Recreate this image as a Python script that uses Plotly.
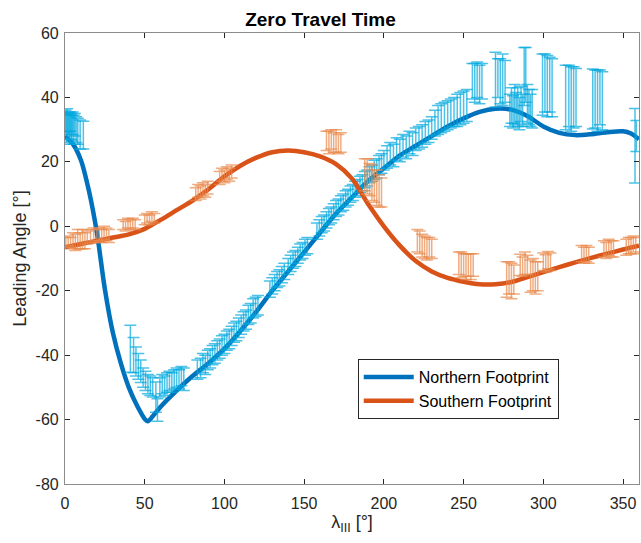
import plotly.graph_objects as go

# ---------------- model curves ----------------
north_lam = [0, 5, 10, 15, 20, 25, 30, 35, 40, 45, 50, 52, 55, 60, 70, 80, 90, 100, 110, 120, 130,
             140, 150, 160, 170, 180, 190, 200, 210, 220, 230, 240, 250, 260, 270, 280, 290, 300,
             310, 320, 330, 340, 350, 355, 360]
north_curve = [28, 25.5, 20.5, 11, -2, -19.5, -33, -42.5, -50, -55.5, -59.8, -60.5, -59, -56, -51,
               -46.5, -42.5, -38, -32.5, -26.5, -20, -14, -8, -2, 4, 9, 14, 18, 22, 25, 28, 31, 33.5,
               35.5, 36.5, 36.2, 34.2, 31, 29, 28.3, 28.6, 29.2, 29.5, 28.8, 27]

south_lam = [0, 10, 20, 30, 40, 50, 60, 70, 80, 90, 100, 110, 120, 130, 140, 150, 160, 170, 180, 190,
             200, 210, 220, 230, 240, 250, 260, 270, 280, 290, 300, 310, 320, 330, 340, 350, 360]
south_curve = [-6.5, -5.5, -4.5, -3.5, -2.5, -0.8, 2, 5, 8, 11.5, 15.5, 18.8, 21.3, 23, 23.5, 23,
               21.7, 19.3, 14.8, 7, 0, -6, -10.8, -14, -16, -17.2, -18, -18, -17.3, -15.8, -14.2,
               -12.7, -11.2, -9.8, -8.5, -7.2, -6]

# ---------------- observations (northern) ----------------
north_x = [0.3, 0.8, 1.3, 1.8, 2.3, 2.8, 3.3, 3.8, 4.3, 4.8, 5.5, 6.2, 7, 8, 9.5, 11.5,
           41, 43, 44.5, 46, 47.5, 49, 50.5, 52, 53.5, 55, 57, 58, 59.5, 61, 62.5, 64, 65.5, 67,
           68.5, 70, 71.5, 73, 74.5,
           83, 85, 86.5, 88, 89.5, 91, 92.5, 94, 95.5, 97, 98.5, 100, 101.5, 103, 104.5, 106,
           107.5, 109, 110.5, 112, 113.5, 115, 116.5, 118, 119.5, 121,
           128.5, 130, 131.5, 133, 134.5, 136, 137.5,
           140, 141.5, 143, 144.5, 146, 147.5, 149, 150.5, 152, 158, 159.5, 161, 162.5, 164, 165.5,
           167, 168.5, 170, 171.5, 173, 174.5, 176, 177.5, 179, 180.5, 182, 183.5, 185, 186.5,
           188, 189.5, 191, 192.5, 194, 195.5, 197, 198.5, 200,
           202, 204, 206, 208, 210, 212, 214, 216, 218, 220, 222, 224, 226, 228, 230,
           232, 234, 236, 238, 240, 242, 244, 246, 248, 250, 252,
           255.5, 257, 258.5, 260, 261.5,
           270, 271.5, 273, 274.5, 276,
           279, 280, 281, 282, 283, 284, 285, 286, 287, 288, 289, 290, 291, 292, 293,
           299.5, 301, 302.5, 304, 305.5,
           314, 316, 317.5, 319, 320.5,
           331, 332.5, 334, 335.5, 337,
           357.5, 358.3]
north_y = [32.5, 30.5, 33, 31, 32, 30, 32.5, 31, 30.5, 32, 30, 31.5, 30, 29.5, 28.5, 28.3,
           -38, -40, -42, -43.5, -45, -47, -48, -49, -49.5, -50, -53, -57, -50, -49, -49.5, -48.5,
           -48, -48.5, -47.5, -47, -47.5, -46.5, -47.5,
           -44.5, -44, -42.5, -43, -41.5, -41, -40, -39.5, -38.5, -38, -37, -36.5, -35.5, -35, -34,
           -33, -32.5, -31.5, -30.5, -29.5, -29, -27.5, -27, -25.5, -25, -24.5,
           -19.5, -18.5, -17.5, -16.5, -16, -15, -14,
           -12.5, -11.5, -10.5, -10, -9, -8, -7.5, -6.5, -6, -1.5, -0.5, 0.5, 1, 2, 3,
           3.5, 4.5, 5.5, 6, 7, 7.5, 8.5, 9, 10, 10.5, 11.5, 12, 13, 13.5,
           14.5, 15, 16, 16.5, 17.5, 18, 19, 19.5, 20.5,
           21.5, 22.5, 22, 24, 23.5, 25, 24.5, 26, 25.5, 27, 27.5, 28, 29, 29.5, 30.5,
           32, 33, 33.5, 34, 34.5, 35, 35.5, 36, 36.5, 37, 37.5,
           45, 44.5, 45.5, 44, 45,
           45.5, 46, 45, 45.5, 45,
           36, 37.5, 35.5, 38, 36.5, 37, 35, 38, 36, 46.5, 47, 38, 37, 36, 36.5,
           44, 44.5, 43.5, 44, 43,
           40, 40.5, 39.5, 40, 40,
           39.5, 39.5, 39, 40, 39,
           25, 28]
north_err = [3.5, 4.5, 3.5, 4, 3.5, 4.5, 3, 4, 4, 3.5, 4.5, 3.5, 4, 4, 4.5, 4.3,
             7.3, 5.5, 4.5, 4, 3.5, 3, 3, 3, 3, 3, 4.7, 3.5, 3, 3, 3, 3, 3, 3, 3, 3, 3, 3, 3.5,
             3, 3, 3, 3, 3, 3, 3, 3, 3, 3, 3, 3, 3, 3, 3, 3, 3, 3, 3, 3, 3, 3, 3, 3, 3, 3,
             2.5, 2.5, 2.5, 2.5, 2.5, 2.5, 2.5,
             2.5, 2.5, 2.5, 2.5, 2.5, 2.5, 2.5, 2.5, 2.5, 2.5, 2.5, 2.5, 2.5, 2.5, 2.5,
             2.5, 2.5, 2.5, 2.5, 2.5, 2.5, 2.5, 2.5, 2.5, 2.5, 2.5, 2.5, 2.5, 2.5,
             2.5, 2.5, 2.5, 2.5, 3, 3, 3, 3, 3,
             3.5, 3.5, 3.5, 3.5, 3.5, 3.5, 3.5, 3.5, 3.5, 3.5, 3.5, 3.5, 3.5, 3.5, 3.5,
             4, 4.5, 4.5, 4.5, 4.5, 4.5, 4.5, 5, 5, 5, 5,
             5.5, 6, 5.5, 6, 5.5,
             8.5, 6, 7, 8, 6.5,
             5, 5.5, 5, 6, 5, 6, 5, 5.5, 5, 9, 8.5, 6, 5.5, 5, 6,
             9.5, 9, 9.5, 8.5, 9,
             10, 9.5, 10, 9.5, 9,
             9.3, 9, 9.5, 8.5, 9,
             11.6, 4.8]

# ---------------- observations (southern) ----------------
south_x = [0.5, 2, 3.5, 5, 6.5, 8, 9.5, 11, 12.5, 14, 16, 18, 20, 21.5, 23, 24.5, 26, 27.5,
           36.5, 38, 39.5, 41, 42.5, 44,
           50, 51.5, 53, 54.5, 56,
           82, 83.5, 85, 86.5, 88, 89.5,
           97, 98.5, 100, 101.5, 103, 104.5,
           164, 165.5, 167, 168.5, 170, 171.5, 173,
           188, 189.5, 191, 192.5, 194, 195.5, 197, 198.5,
           221, 222.5, 224, 225.5, 227, 228.5, 230,
           247, 248.5, 250, 251.5, 253, 254.5, 256,
           277, 278.5, 280, 281.5,
           285.5, 287, 288.5, 290,
           292, 293.5, 295, 296.5,
           300, 301.5, 303, 304.5,
           324, 325.5, 327, 328.5,
           338, 339.5, 341, 342.5, 344,
           352, 353.5, 355, 356.5, 358]
south_y = [-5, -4.5, -5, -4.5, -5, -4, -4.5, -4, -4.5, -3.5, -3, -2.5, -3, -2.5, -3, -2, -2.5, -3,
           0.5, 0, 1, 0.5, 1, 0.5,
           2, 2.5, 2, 3, 2.5,
           10, 11, 10.5, 11.5, 11, 12,
           15, 16, 15.5, 16.5, 16, 17,
           26.5, 26, 27, 26, 26.5, 25.5, 26,
           16, 15.5, 14.5, 13.5, 12.5, 12, 11, 10.5,
           -4.5, -5, -6, -6.5, -7, -6.5, -7,
           -11.5, -12, -12, -12.5, -12, -12.5, -12,
           -16.5, -16, -17, -16.5,
           -12, -12.5, -11.5, -12,
           -15.5, -15, -16, -15.5,
           -11, -11.5, -10.5, -11,
           -8.5, -9, -8.5, -9,
           -7, -7.5, -6.5, -7, -7,
           -6.5, -6, -6, -5.5, -6]
south_err = [1.5, 1.5, 1.5, 2.5, 2.5, 3, 2.5, 3, 2.5, 2, 2, 2, 2, 2, 2, 2, 2, 2,
             1.5, 1.5, 1.5, 1.5, 1.5, 1.5,
             1.5, 1.5, 1.5, 1.5, 1.5,
             2, 2, 2, 2, 2, 2,
             2, 2, 2, 2, 2, 2,
             3, 3.5, 3, 3, 3.5, 3, 3,
             5, 5.5, 5, 5.5, 5, 5.5, 5, 4.5,
             3.5, 3.5, 3.5, 3.5, 3.5, 3, 3,
             3.5, 4, 3.5, 4, 3.5, 4, 3.5,
             5.5, 5, 5.5, 4.5,
             3.3, 3, 3.5, 3,
             5, 5, 5, 4.5,
             2.7, 2.7, 2.7, 2.7,
             2.5, 2.5, 2.5, 2.5,
             2.5, 2.5, 2.5, 2.5, 2.5,
             2.5, 2.5, 2.5, 2.5, 2.5]

x_ticks = [0, 50, 100, 150, 200, 250, 300, 350]
y_ticks = [-80, -60, -40, -20, 0, 20, 40, 60]
y_ticktext = ["-80", "-60", "-40", "-20", "0", "20", "40", "60"]

FONT = "Liberation Sans, Arial, Helvetica, sans-serif"
N_LINE = "#0072BD"
S_LINE = "#D95319"
N_ERR = "rgba(0,168,222,0.7)"
S_ERR = "rgba(232,137,75,0.7)"

fig = go.Figure()

fig.add_trace(go.Scatter(
    x=north_lam, y=north_curve, mode="lines", name="Northern Footprint",
    line=dict(color=N_LINE, width=4.5, shape="spline", smoothing=0.8)))

fig.add_trace(go.Scatter(
    x=north_x, y=north_y, mode="markers", showlegend=False, hoverinfo="skip",
    marker=dict(size=1, color="rgba(0,0,0,0)"),
    error_y=dict(type="data", array=north_err, visible=True, color=N_ERR,
                 thickness=1.5, width=6)))

fig.add_trace(go.Scatter(
    x=south_lam, y=south_curve, mode="lines", name="Southern Footprint",
    line=dict(color=S_LINE, width=4.5, shape="spline", smoothing=0.8)))

fig.add_trace(go.Scatter(
    x=south_x, y=south_y, mode="markers", showlegend=False, hoverinfo="skip",
    marker=dict(size=1, color="rgba(0,0,0,0)"),
    error_y=dict(type="data", array=south_err, visible=True, color=S_ERR,
                 thickness=1.5, width=6)))

axis_common = dict(
    showline=True, linecolor="#8c8c8c", linewidth=1.2, mirror="ticks",
    ticks="inside", ticklen=5, tickcolor="#262626", tickwidth=1,
    showgrid=False, zeroline=False,
    tickfont=dict(family=FONT, size=16, color="#262626"),
)

fig.update_layout(
    width=641, height=543,
    margin=dict(l=65, r=2, t=33, b=59),
    paper_bgcolor="white", plot_bgcolor="white",
    title=dict(text="<b>Zero Travel Time</b>", x=0.5, xref="container", xanchor="center",
               y=1 - 19 / 543, yref="container", yanchor="middle",
               font=dict(family=FONT, size=19, color="black")),
    xaxis=dict(range=[0, 360], tickvals=x_ticks, ticklabelstandoff=5,
               title=dict(text="λ<sub>III</sub> [°]", standoff=4,
                          font=dict(family=FONT, size=18, color="#262626")),
               **axis_common),
    yaxis=dict(range=[-80, 60], tickvals=y_ticks, ticktext=y_ticktext, ticklabelstandoff=2,
               title=dict(text="Leading Angle [°]", standoff=4,
                          font=dict(family=FONT, size=18, color="#262626")),
               **axis_common),
    legend=dict(x=0.51, y=0.277, xanchor="left", yanchor="top",
                bgcolor="white", bordercolor="#262626", borderwidth=1,
                font=dict(family=FONT, size=16, color="black"),
                itemwidth=50, tracegroupgap=0),
    showlegend=True,
)

fig.write_html("out.html")
